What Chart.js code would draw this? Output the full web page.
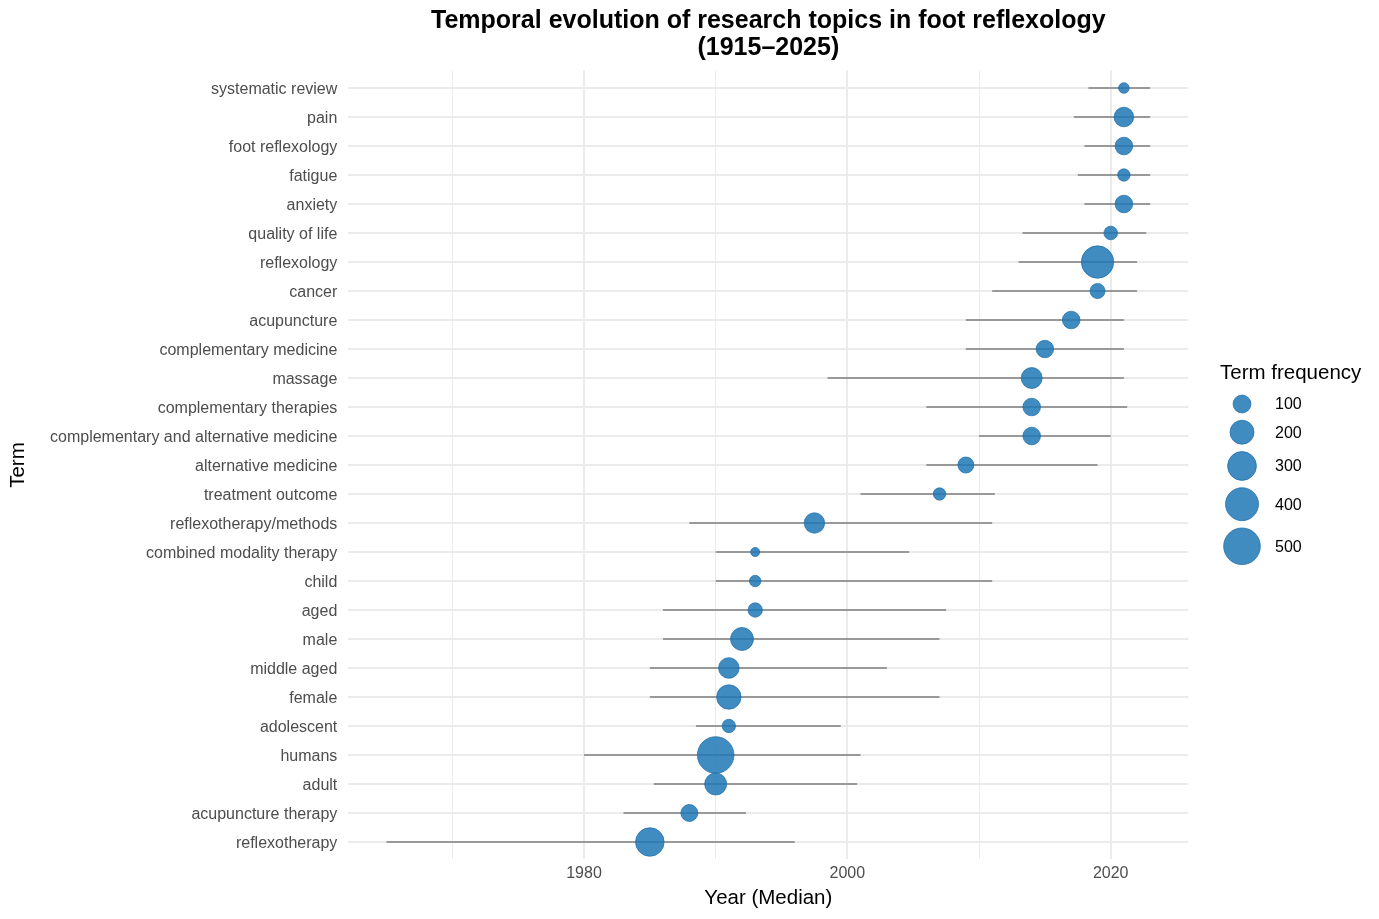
<!DOCTYPE html>
<html>
<head>
<meta charset="utf-8">
<script src="https://cdn.jsdelivr.net/npm/chart.js@4.4.1/dist/chart.umd.min.js"></script>
<style>
  html, body { margin: 0; padding: 0; background: #ffffff; }
  #wrap { width: 1379px; height: 919px; }
</style>
</head>
<body>
<div id="wrap"><canvas id="c" width="1379" height="919"></canvas></div>
<script>
// ---- Data ----
const terms = ['systematic review','pain','foot reflexology','fatigue','anxiety','quality of life','reflexology','cancer','acupuncture','complementary medicine','massage','complementary therapies','complementary and alternative medicine','alternative medicine','treatment outcome','reflexotherapy/methods','combined modality therapy','child','aged','male','middle aged','female','adolescent','humans','adult','acupuncture therapy','reflexotherapy'];
const medianYear = [2021,2021,2021,2021,2021,2020,2019,2019,2017,2015,2014,2014,2014,2009,2007,1997.5,1993,1993,1993,1992,1991,1991,1991,1990,1990,1988,1985];
const lowYear = [2018.3,2017.2,2018,2017.5,2018,2013.3,2013,2011,2009,2009,1998.5,2006,2010,2006,2001,1988,1990,1990,1986,1986,1985,1985,1988.5,1980,1985.3,1983,1965];
const highYear = [2023,2023,2023,2023,2023,2022.7,2022,2022,2021,2021,2021,2021.25,2020,2019,2011.2,2011,2004.7,2011,2007.5,2007,2003,2007,1999.5,2001,2000.75,1992.3,1996];
const termFreq = [19,125,96,35,96,47,385,63,96,94,147,96,96,75,35,138,7,26,56,181,141,208,45,498,164,88,294];
const xTicks = [1970,1980,1990,2000,2010,2020];
const legendBreaks = [100,200,300,400,500];
const titleLines = ['Temporal evolution of research topics in foot reflexology','(1915\u20132025)'];

// ---- Size scale (area linear in frequency) ----
function sizeScale(v) { return Math.sqrt(16 + 0.64 * v); }

const FONT = "'Liberation Sans', Arial, Helvetica, sans-serif";
const bubbleFill = 'rgba(31,119,180,0.85)';
const bubbleLine = 'rgba(31,110,170,0.9)';

// segments (one per term, separated by gaps)
const segData = [];
terms.forEach((t, i) => {
  segData.push({x: lowYear[i], y: i});
  segData.push({x: highYear[i], y: i});
  segData.push({x: highYear[i], y: NaN});
});
const bubbleData = terms.map((t, i) => ({x: medianYear[i], y: i, r: sizeScale(termFreq[i])}));

const xMin = 1965 - 0.05 * (2023 - 1965);
const xMax = 2023 + 0.05 * (2023 - 1965);

const decorPlugin = {
  id: 'decor',
  afterDraw(chart) {
    const ctx = chart.ctx;
    const area = chart.chartArea;
    ctx.save();
    // title
    ctx.fillStyle = '#000';
    ctx.font = 'bold 25px ' + FONT;
    ctx.textAlign = 'center';
    ctx.textBaseline = 'middle';
    const cx = (area.left + area.right) / 2;
    ctx.fillText(titleLines[0], cx, 21.5);
    ctx.fillText(titleLines[1], cx, 48.5);
    // legend
    ctx.textAlign = 'left';
    ctx.font = '20.5px ' + FONT;
    ctx.fillText('Term frequency', 1220, 373);
    let y = 404;
    const kx = 1242;
    legendBreaks.forEach((b, i) => {
      const r = sizeScale(b);
      if (i > 0) y += sizeScale(legendBreaks[i - 1]) + r + 7.3;
      ctx.beginPath();
      ctx.arc(kx, y, r, 0, Math.PI * 2);
      ctx.fillStyle = bubbleFill;
      ctx.fill();
      ctx.lineWidth = 0.8;
      ctx.strokeStyle = bubbleLine;
      ctx.stroke();
      ctx.fillStyle = '#000';
      ctx.font = '16px ' + FONT;
      ctx.fillText(String(b), 1275, y + 1);
    });
    ctx.restore();
  }
};

new Chart(document.getElementById('c'), {
  data: {
    datasets: [
      {
        type: 'bubble',
        data: bubbleData,
        backgroundColor: bubbleFill,
        borderColor: bubbleLine,
        borderWidth: 0.8,
        order: 0
      },
      {
        type: 'line',
        data: segData,
        borderColor: '#999999',
        borderWidth: 2,
        pointRadius: 0,
        spanGaps: false,
        fill: false,
        order: 1
      }
    ]
  },
  options: {
    responsive: false,
    animation: false,
    events: [],
    layout: { padding: { left: 0, top: 70.6, right: 190.6, bottom: 0 } },
    plugins: { legend: { display: false }, tooltip: { enabled: false }, title: { display: false } },
    scales: {
      x: {
        type: 'linear',
        min: xMin,
        max: xMax,
        afterFit(scale) { scale.height = 59.6; },
        afterBuildTicks(scale) { scale.ticks = xTicks.map(v => ({value: v})); },
        border: { display: false },
        grid: {
          drawTicks: false,
          color: '#EBEBEB',
          lineWidth: ctx => (ctx.tick && ctx.tick.value % 20 === 0) ? 2 : 1
        },
        ticks: {
          padding: 5,
          color: '#4D4D4D',
          font: { family: FONT, size: 16 },
          maxRotation: 0,
          autoSkip: false,
          callback: v => (v % 20 === 0 ? String(v) : '')
        },
        title: {
          display: true,
          text: 'Year (Median)',
          color: '#000',
          font: { family: FONT, size: 20.5 },
          padding: { top: 0, bottom: 8.5 }
        }
      },
      y: {
        type: 'linear',
        reverse: true,
        min: -0.6,
        max: terms.length - 1 + 0.6,
        afterFit(scale) { scale.width = 348.3; },
        afterBuildTicks(scale) { scale.ticks = terms.map((t, i) => ({value: i})); },
        border: { display: false },
        grid: { drawTicks: false, color: '#EBEBEB', lineWidth: 2 },
        ticks: {
          padding: 11,
          labelOffset: 1.5,
          color: '#4D4D4D',
          font: { family: FONT, size: 16 },
          autoSkip: false,
          callback: v => terms[v]
        },
        title: {
          display: true,
          text: 'Term',
          color: '#000',
          font: { family: FONT, size: 20.5 },
          padding: { top: 6.5, bottom: 0 }
        }
      }
    }
  },
  plugins: [decorPlugin]
});
</script>
</body>
</html>
